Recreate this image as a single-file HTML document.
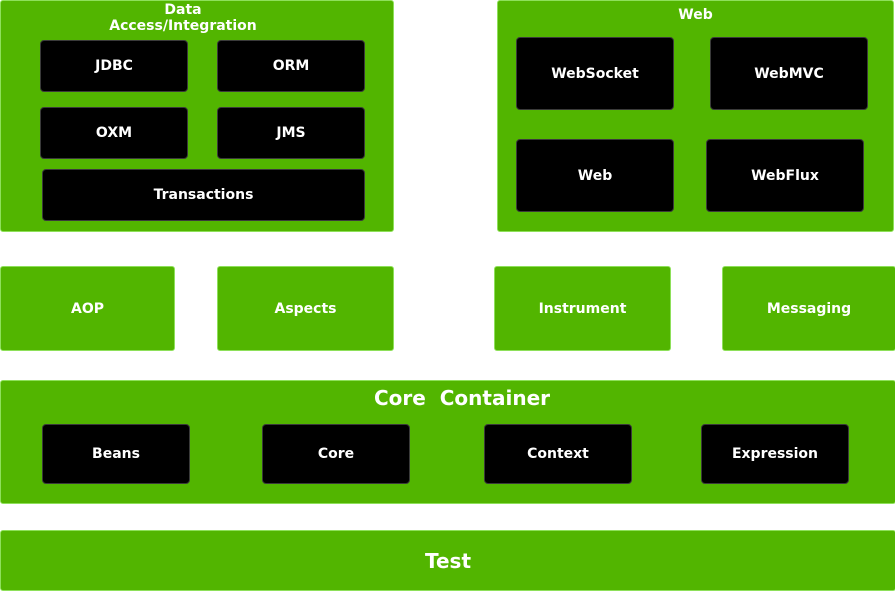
<!DOCTYPE html>
<html><head><style>
body{margin:0;width:895px;height:590px;background:#fff;position:relative;overflow:hidden;font-family:"DejaVu Sans","Liberation Sans",sans-serif;font-weight:bold;}
.g{position:absolute;background:#52b500;border:1px solid #8ee05a;border-radius:3px;box-sizing:border-box;color:#fff;display:flex;align-items:center;justify-content:center;font-size:14px;}
.b{position:absolute;background:#000;border:1px solid #3a3a3a;border-radius:4px;box-sizing:border-box;color:#fff;display:flex;align-items:center;justify-content:center;font-size:14px;}
.t{position:absolute;color:#fff;text-align:center;font-size:14px;line-height:16px;}
</style></head><body>
<div class="g" style="left:0;top:0;width:394px;height:232px"></div>
<div class="t" style="left:0;top:2px;width:366px">Data<br>Access/Integration</div>
<div class="b" style="left:40px;top:40px;width:148px;height:52px">JDBC</div>
<div class="b" style="left:217px;top:40px;width:148px;height:52px">ORM</div>
<div class="b" style="left:40px;top:107px;width:148px;height:52px">OXM</div>
<div class="b" style="left:217px;top:107px;width:148px;height:52px">JMS</div>
<div class="b" style="left:42px;top:169px;width:323px;height:52px">Transactions</div>

<div class="g" style="left:497px;top:0;width:397px;height:232px"></div>
<div class="t" style="left:497px;top:7px;width:397px">Web</div>
<div class="b" style="left:516px;top:37px;width:158px;height:73px">WebSocket</div>
<div class="b" style="left:710px;top:37px;width:158px;height:73px">WebMVC</div>
<div class="b" style="left:516px;top:139px;width:158px;height:73px">Web</div>
<div class="b" style="left:706px;top:139px;width:158px;height:73px">WebFlux</div>

<div class="g" style="left:0;top:266px;width:175px;height:85px">AOP</div>
<div class="g" style="left:217px;top:266px;width:177px;height:85px">Aspects</div>
<div class="g" style="left:494px;top:266px;width:177px;height:85px">Instrument</div>
<div class="g" style="left:722px;top:266px;width:174px;height:85px">Messaging</div>

<div class="g" style="left:0;top:380px;width:896px;height:124px"></div>
<div class="t" style="left:0;top:387px;width:924px;font-size:20px;line-height:22px">Core&nbsp; Container</div>
<div class="b" style="left:42px;top:424px;width:148px;height:60px">Beans</div>
<div class="b" style="left:262px;top:424px;width:148px;height:60px">Core</div>
<div class="b" style="left:484px;top:424px;width:148px;height:60px">Context</div>
<div class="b" style="left:701px;top:424px;width:148px;height:60px">Expression</div>

<div class="g" style="left:0;top:530px;width:896px;height:61px;font-size:20px">Test</div>
</body></html>
